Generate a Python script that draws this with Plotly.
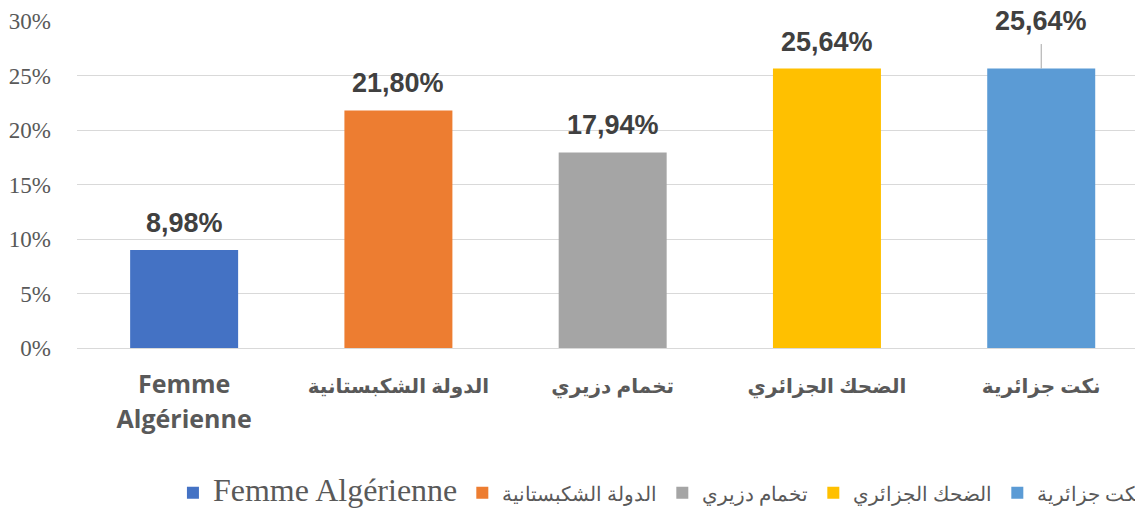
import plotly.graph_objects as go

categories = ["Femme<br>Algérienne", "الدولة الشكبستانية", "تخمام دزيري", "الضحك الجزائري", "نكت جزائرية"]
legend_names = ["Femme Algérienne", "الدولة الشكبستانية", "تخمام دزيري", "الضحك الجزائري", "نكت جزائرية"]
values = [8.98, 21.80, 17.94, 25.64, 25.64]
value_labels = ["8,98%", "21,80%", "17,94%", "25,64%", "25,64%"]
colors = ["#4472C4", "#ED7D31", "#A5A5A5", "#FFC000", "#5B9BD5"]
y_ticks = [0, 5, 10, 15, 20, 25, 30]
y_tick_labels = ["0%", "5%", "10%", "15%", "20%", "25%", "30%"]


def is_latin(s):
    return all(ord(ch) < 0x600 for ch in s)


tick_text = [("<span style='font-size:25px'>%s</span>" % c) if is_latin(c)
             else ("<span style='font-size:20px'>%s</span>" % c) for c in categories]
legend_text = [("<span style='font-size:32px'>%s</span>" % n) if is_latin(n) else n for n in legend_names]

fig = go.Figure()
for cat, name, val, col in zip(categories, legend_text, values, colors):
    fig.add_trace(go.Bar(
        x=[cat], y=[val], name=name, width=0.504,
        marker=dict(color=col, line=dict(width=0)),
        hoverinfo="skip",
    ))

label_font = dict(family="Liberation Sans, Arial, sans-serif", size=27, color="#404040", weight="bold")
for i, (cat, val, lab) in enumerate(zip(categories, values, value_labels)):
    if i == len(categories) - 1:
        fig.add_annotation(x=cat, y=val, text=lab, showarrow=True,
                           arrowhead=0, arrowwidth=1, arrowcolor="#A6A6A6",
                           ax=0, ay=-48, standoff=0, startstandoff=7, font=label_font)
    else:
        fig.add_annotation(x=cat, y=val, text=lab, showarrow=False,
                           yanchor="bottom", yshift=10, font=label_font)

# page body has an 8px margin: figure is sized so that it ends at the window edge
fig.update_layout(
    width=1135, height=505,
    margin=dict(l=69, r=0, t=13, b=165, autoexpand=False),
    paper_bgcolor="white", plot_bgcolor="white",
    barmode="overlay",
    showlegend=True,
    legend=dict(orientation="h", x=0.09, xanchor="left", y=-0.443, yanchor="middle",
                font=dict(family="Liberation Serif, DejaVu Serif, serif", size=20, color="#595959"),
                traceorder="normal"),
    xaxis=dict(type="category", showgrid=False, showline=False, ticks="",
               tickvals=categories, ticktext=tick_text, range=[-0.5, 4.475],
               tickfont=dict(family="Open Sans, DejaVu Sans, sans-serif", size=27, color="#595959", weight="bold"),
               ticklabelstandoff=17),
    yaxis=dict(range=[0, 30], tickvals=y_ticks, ticktext=y_tick_labels,
               showgrid=True, gridcolor="#D9D9D9", gridwidth=1,
               zeroline=True, zerolinecolor="#D9D9D9", zerolinewidth=1,
               showline=False, ticks="",
               tickfont=dict(family="Liberation Serif, DejaVu Serif, serif", size=23, color="#595959"),
               ticklabelstandoff=25),
)

fig.write_html("out.html")
